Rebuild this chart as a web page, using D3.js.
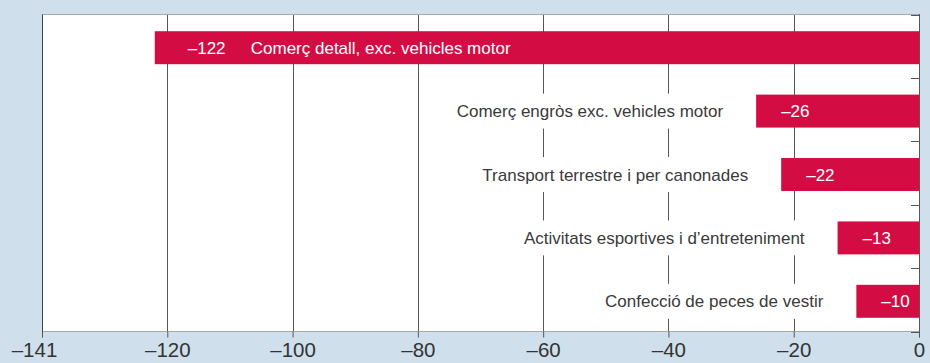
<!DOCTYPE html>
<html><head><meta charset="utf-8">
<script src="https://cdn.jsdelivr.net/npm/d3@7"></script>
<style>html,body{margin:0;padding:0;background:#cfe0ec;}svg{display:block;}</style>
</head><body>
<svg id="c" width="930" height="363"></svg>
<script>
const categories = ["Comerç detall, exc. vehicles motor", "Comerç engròs exc. vehicles motor", "Transport terrestre i per canonades", "Activitats esportives i d’entreteniment", "Confecció de peces de vestir"];
const values = [-122, -26, -22, -13, -10];
const valueLabels = ["–122", "–26", "–22", "–13", "–10"];
const tickValues = [-140, -120, -100, -80, -60, -40, -20, 0];
const tickLabels = ["–141", "–120", "–100", "–80", "–60", "–40", "–20", "0"];

const svg = d3.select("#c");
const W = 930, H = 363;
const pLeft = 42, pRight = 919, pTop = 14.5, pBottom = 331.5;
const font = "'Liberation Sans', Arial, Helvetica, sans-serif";
const red = "#d30d43";
const fs = 17;

const x = d3.scaleLinear().domain([-140, 0]).range([pLeft, pRight]);
const y = d3.scaleBand().domain(categories).range([pTop + 1.5, pBottom + 1.5]).paddingInner(0.48).paddingOuter(0.24);

svg.append("rect").attr("width", W).attr("height", H).attr("fill", "#cfe0ec");
svg.append("rect").attr("x", pLeft).attr("y", pTop).attr("width", pRight - pLeft).attr("height", pBottom - pTop).attr("fill", "#fff");

// gridlines
svg.append("g").selectAll("line").data(tickValues.filter(v => v > -140 && v < 0)).join("line")
  .attr("x1", d => Math.round(x(d)) + 0.5).attr("x2", d => Math.round(x(d)) + 0.5)
  .attr("y1", pTop).attr("y2", pBottom)
  .attr("stroke", "#555").attr("stroke-width", 1);

// top and bottom border
svg.append("line").attr("x1", pLeft).attr("x2", pRight).attr("y1", pTop).attr("y2", pTop).attr("stroke", "#a7a9ac");
svg.append("line").attr("x1", pLeft).attr("x2", pRight).attr("y1", pBottom).attr("y2", pBottom).attr("stroke", "#a7a9ac");

const data = categories.map((c, i) => ({c, v: values[i], lab: valueLabels[i]}));

// bars
svg.append("g").selectAll("rect").data(data).join("rect")
  .attr("x", d => x(d.v)).attr("width", d => x(0) - x(d.v))
  .attr("y", d => y(d.c)).attr("height", y.bandwidth())
  .attr("fill", red);

// value labels
svg.append("g").selectAll("text").data(data).join("text")
  .attr("x", d => x(d.v) + (d.v < -100 ? 33 : 25))
  .attr("y", d => y(d.c) + y.bandwidth() / 2 + 6)
  .attr("fill", "#fff").attr("font-family", font).attr("font-size", fs)
  .text(d => d.lab);

// category labels
const cg = svg.append("g");
data.forEach(d => {
  const inside = d.v < -100;
  const cy = y(d.c) + y.bandwidth() / 2 + 6;
  if (inside) {
    cg.append("text").attr("x", x(d.v) + 96).attr("y", cy)
      .attr("fill", "#fff").attr("font-family", font).attr("font-size", fs).text(d.c);
  } else {
    const g = cg.append("g");
    const bg = g.append("rect").attr("fill", "#fff");
    const t = g.append("text").attr("x", x(d.v) - 33).attr("y", cy)
      .attr("text-anchor", "end").attr("fill", "#3a3a3a")
      .attr("font-family", font).attr("font-size", fs).text(d.c);
    const bb = t.node().getBBox();
    bg.attr("x", bb.x - 6).attr("width", bb.width + 12)
      .attr("y", y(d.c) - 1).attr("height", y.bandwidth() + 2);
  }
});

// left axis line
svg.append("line").attr("x1", pLeft + 0.5).attr("x2", pLeft + 0.5).attr("y1", pTop).attr("y2", pBottom + 6).attr("stroke", "#444");
// right axis line with ticks at band boundaries
svg.append("line").attr("x1", pRight + 0.5).attr("x2", pRight + 0.5).attr("y1", pTop - 0.5).attr("y2", pBottom + 6).attr("stroke", "#555");
const bounds = d3.range(categories.length + 1).map(i => pTop + i * (pBottom - pTop) / categories.length);
svg.append("g").selectAll("line").data(bounds).join("line")
  .attr("x1", pRight - 8).attr("x2", pRight).attr("y1", d => Math.round(d) + 0.5).attr("y2", d => Math.round(d) + 0.5)
  .attr("stroke", "#555");

// bottom axis
const xAxis = d3.axisBottom(x).tickValues(tickValues).tickSize(6).tickPadding(5)
  .tickFormat((d, i) => tickLabels[i]);
const ax = svg.append("g").attr("transform", `translate(0,${pBottom})`).call(xAxis);
ax.select(".domain").remove();
ax.selectAll(".tick line").attr("stroke", "#555");
ax.selectAll(".tick text").attr("font-family", font).attr("font-size", 20.5).attr("fill", "#333")
  .attr("dx", (d, i) => i === 0 ? -8 : 0);
</script>
</body></html>
